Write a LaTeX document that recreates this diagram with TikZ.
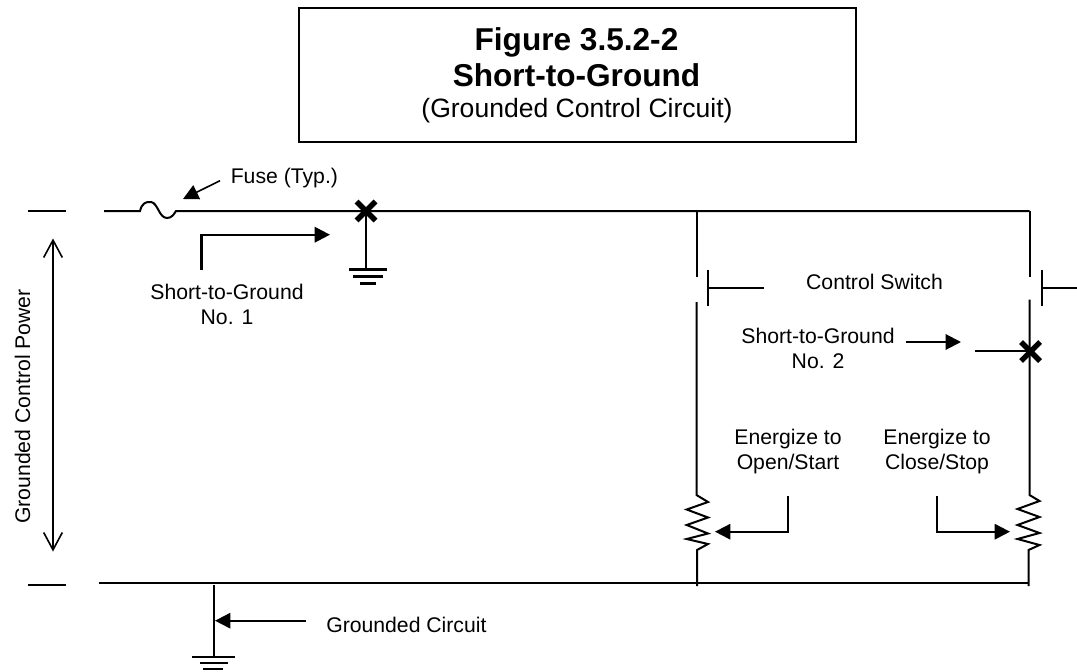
\documentclass[tikz,border=0pt]{standalone}
\usepackage{fontspec}
\setmainfont{Liberation Sans}
\usetikzlibrary{arrows.meta}
\tikzset{
  wire/.style={line width=1.5pt,draw=black},
  dashline/.style={line width=1.2pt,draw=black},
  lbl/.style={font=\fontsize{15.9pt}{18.2pt}\selectfont,align=center,inner sep=0pt,text=black,anchor=base},
  arr/.style={line width=1.5pt,draw=black,-{Triangle[length=11.5pt,width=11.5pt]}},
  openarr/.style={line width=1.2pt,draw=black,{Straight Barb[length=13pt,width=14pt,line width=1.2pt]}-{Straight Barb[length=13pt,width=14pt,line width=1.2pt]}},
  crossmark/.style={line width=4pt,draw=black},
  gnd/.style={line width=1.6pt,draw=black},
}
\begin{document}
\begin{tikzpicture}[x=0.75pt,y=-0.75pt]
\useasboundingbox (0,0) rectangle (1077,671);
% title
\node[draw,line width=1.5pt,minimum width=417.5pt,minimum height=100.5pt,inner sep=0pt,anchor=south west] (title) at (298,143.3) {};
\node[font=\fontsize{23.7pt}{28pt}\selectfont\bfseries,inner sep=0pt,anchor=base] (t1) at (576.5,50) {Figure 3.5.2-2};
\node[font=\fontsize{23.7pt}{28pt}\selectfont\bfseries,inner sep=0pt,anchor=base] (t2) at (576.5,86.5) {Short-to-Ground};
\node[font=\fontsize{19.9pt}{24pt}\selectfont,inner sep=0pt,anchor=base] (t3) at (577,117) {(Grounded Control Circuit)};
% rails
\coordinate (dt1) at (28,211); \coordinate (dt2) at (66,211);
\coordinate (db1) at (28,585); \coordinate (db2) at (66,585);
\draw[dashline] (dt1) -- (dt2);
\draw[dashline] (db1) -- (db2);
\coordinate (tl) at (104,211);
\coordinate (f1) at (140,211);
\coordinate (f2) at (176,211);
\coordinate (tr) at (1029.5,211);
\coordinate (j1) at (696.5,211);
\coordinate (bl) at (99,582.5);
\coordinate (br) at (1028.5,582.5);
\draw[wire] (tl) -- (f1) .. controls (142,203) and (146,201.5) .. (151,202)
  .. controls (158,203) and (159,218) .. (167,218)
  .. controls (172,218) and (174,214) .. (f2) -- (tr);
\draw[wire] (bl) -- (br);
% fuse label
\coordinate (fa) at (220,180.7); \coordinate (fb) at (183,199);
\draw[arr,line width=1.2pt] (fa) -- (fb);
\node[lbl,anchor=base west] (fuse) at (230.5,183.3) {Fuse (Typ.)};
% short 1
\coordinate (x1) at (366,211);
\coordinate (g1) at (366,269.5);
\draw[line width=2.2pt] (x1) -- (g1);
\draw[gnd] (349,269.5) -- (387,269.5);
\draw[gnd] (353,276.5) -- (383,276.5);
\draw[gnd] (360,283.5) -- (376,283.5);
\draw[crossmark] (356.5,201.5) -- (375.5,220.5) (375.5,201.5) -- (356.5,220.5);
\coordinate (s1a) at (201.3,269.5); \coordinate (s1b) at (201.3,234.7); \coordinate (s1c) at (330,234.7);
\draw[arr,line width=1.8pt] (s1a) -- (s1b) -- (s1c);
\node[lbl] (s1) at (227,324) {Short-to-Ground\\No. 1};
% left branch
\coordinate (lw1) at (696.5,277); \coordinate (lw2) at (696.5,302);
\draw[wire] (j1) -- (lw1);
\draw[wire] (lw2) -- (696.5,495) -- (708,502) -- (686.7,509.5) -- (708,517.5) -- (686.7,525) -- (708,533.5) -- (686.7,539) -- (708,544) -- (697,550) -- (697,586);
\draw[wire] (707.7,270) -- (707.7,306);
\draw[wire] (707.7,288) -- (764,288);
% right branch
\draw[wire] (tr) -- (1029.5,277);
\draw[wire] (1029.5,299.5) -- (1029.5,495) -- (1039.5,501) -- (1017.5,509) -- (1039.5,517) -- (1017.5,525) -- (1039.5,533) -- (1017.5,539) -- (1039.5,545) -- (1028.5,550) -- (1028.5,586);
\draw[wire] (1041.7,270) -- (1041.7,306);
\draw[wire] (1041.7,288) -- (1077,288);
\node[lbl] (cs) at (874.5,289) {Control Switch};
% short 2
\node[lbl] (s2) at (818,368) {Short-to-Ground\\No. 2};
\coordinate (s2a) at (905.5,342); \coordinate (s2b) at (961,342);
\draw[arr] (s2a) -- (s2b);
\coordinate (st) at (975,351.3); \coordinate (x2) at (1030,351.3);
\draw[wire] (st) -- (x2);
\draw[crossmark] (1021,342) -- (1040,361) (1040,342) -- (1021,361);
% energize
\node[lbl] (e1) at (788,469) {Energize to\\Open/Start};
\node[lbl] (e2) at (937,469) {Energize to\\Close/Stop};
\coordinate (e1a) at (788,496); \coordinate (e1b) at (788,531.7); \coordinate (e1c) at (715,531.7);
\draw[arr] (e1a) -- (e1b) -- (e1c);
\coordinate (e2a) at (936.7,496); \coordinate (e2b) at (936.7,531.7); \coordinate (e2c) at (1010,531.7);
\draw[arr] (e2a) -- (e2b) -- (e2c);
% ground bottom
\coordinate (g2a) at (213.5,585); \coordinate (g2b) at (213.5,656.7);
\draw[wire] (g2a) -- (g2b);
\draw[gnd] (192,656.7) -- (235,656.7);
\draw[gnd] (200,663) -- (228,663);
\draw[gnd] (203,669) -- (223,669);
\coordinate (ga) at (306,620.7); \coordinate (gb) at (215,620.7);
\draw[arr] (ga) -- (gb);
\node[lbl,anchor=base west] (gc) at (326,632.7) {Grounded Circuit};
% power
\coordinate (pa) at (53,238.5); \coordinate (pb) at (53,551.5);
\draw[openarr] (pa) -- (pb);
\node[lbl,rotate=90,anchor=base] (gp) at (30,406.5) {Grounded Control Power};
\end{tikzpicture}
\end{document}
